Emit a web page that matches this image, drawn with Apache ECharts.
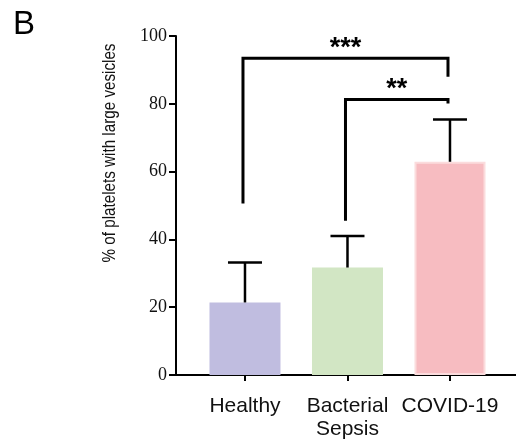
<!DOCTYPE html>
<html>
<head>
<meta charset="utf-8">
<script src="https://cdn.jsdelivr.net/npm/echarts@6/dist/echarts.min.js"></script>
<style>
  html, body { margin: 0; padding: 0; background: #fff; }
  #main { width: 516px; height: 445px; }
</style>
</head>
<body>
<div id="main"></div>
<script>
// data
var categories = ['Healthy', 'Bacterial\nSepsis', 'COVID-19'];
var means = [21.4, 31.7, 62.9];
var errTop = [33.2, 41.0, 75.4];
var barColors = ['#c0bde0', '#d2e6c4', '#f7bcc1'];
var yTicks = [0, 20, 40, 60, 80, 100];

// significance brackets: from / to category index, heights in axis units
var bracketFrom = [0, 1];
var bracketTo = [2, 2];
var bracketTop = [93.4, 81.3];
var bracketLeftEnd = [50.6, 45.5];
var bracketRightEnd = [88.0, 80.1];
var bracketLabels = ['***', '**'];

var chart = echarts.init(document.getElementById('main'));

var barData = means.map(function (v, i) {
  var item = { value: [i, v], itemStyle: { color: barColors[i] } };
  if (i === 2) {
    item.itemStyle.borderColor = '#fbdcdd';
    item.itemStyle.borderWidth = 2;
  }
  return item;
});

var errData = means.map(function (v, i) { return [i, v, errTop[i]]; });

var bracketData = bracketFrom.map(function (f, i) {
  return [f, bracketTo[i], bracketTop[i], bracketLeftEnd[i], bracketRightEnd[i], i];
});

chart.setOption({
  animation: false,
  grid: { left: 176, right: 0, top: 36, bottom: 70 },
  xAxis: {
    type: 'value',
    min: -0.673,
    max: 2.644,
    splitLine: { show: false },
    axisLine: { show: true, onZero: false, lineStyle: { color: '#000', width: 2 } },
    axisTick: { show: true, customValues: [0, 1, 2], length: 6, lineStyle: { color: '#000', width: 2 } },
    axisLabel: {
      customValues: [0, 1, 2],
      formatter: function (v) { return categories[Math.round(v)]; },
      margin: 20,
      color: '#111',
      fontFamily: 'Liberation Sans, Arial, sans-serif',
      fontSize: 21,
      lineHeight: 23
    }
  },
  yAxis: {
    type: 'value',
    min: 0,
    max: 100,
    interval: 20,
    splitLine: { show: false },
    axisLine: { show: true, onZero: false, lineStyle: { color: '#000', width: 2 } },
    axisTick: { show: true, length: 7, lineStyle: { color: '#000', width: 2 } },
    axisLabel: {
      margin: 9,
      color: '#111',
      fontFamily: 'Liberation Serif, Times New Roman, serif',
      fontSize: 18,
      formatter: function (v) { return yTicks.indexOf(v) >= 0 ? String(v) : ''; }
    }
  },
  graphic: [
    {
      type: 'text', left: 13, top: 8,
      style: { text: 'B', fontFamily: 'Liberation Sans, Arial, sans-serif', fontSize: 33, fill: '#000' }
    },
    {
      type: 'text', x: 110, y: 153, rotation: Math.PI / 2, scaleX: 0.845,
      style: {
        text: '% of platelets with large vesicles',
        fontFamily: 'Liberation Sans, Arial, sans-serif', fontSize: 18,
        fill: '#111', align: 'center', verticalAlign: 'middle'
      }
    }
  ],
  series: [
    {
      type: 'bar',
      barWidth: 71,
      data: barData,
      z: 2
    },
    {
      type: 'custom',
      data: errData,
      z: 3,
      renderItem: function (params, api) {
        var base = api.coord([api.value(0), api.value(1)]);
        var top = api.coord([api.value(0), api.value(2)]);
        var half = 17;
        return {
          type: 'group',
          children: [
            { type: 'line', shape: { x1: base[0], y1: base[1], x2: top[0], y2: top[1] },
              style: { stroke: '#000', lineWidth: 2.5 } },
            { type: 'line', shape: { x1: top[0] - half, y1: top[1], x2: top[0] + half, y2: top[1] },
              style: { stroke: '#000', lineWidth: 2.5 } }
          ]
        };
      }
    },
    {
      type: 'custom',
      data: bracketData,
      z: 4,
      renderItem: function (params, api) {
        var l = api.coord([api.value(0), api.value(3)]);
        var r = api.coord([api.value(1), api.value(4)]);
        var t = api.coord([api.value(0), api.value(2)]);
        var lx = l[0] - 2, rx = r[0] - 2;
        return {
          type: 'group',
          children: [
            { type: 'polyline',
              shape: { points: [[lx, l[1]], [lx, t[1]], [rx, t[1]], [rx, r[1]]] },
              style: { stroke: '#000', lineWidth: 3, fill: null } },
            { type: 'text',
              style: {
                x: (lx + rx) / 2, y: t[1] - 10,
                text: bracketLabels[api.value(5)],
                fontFamily: 'Liberation Sans, Arial, sans-serif', fontSize: 27, fontWeight: 'bold',
                fill: '#000', align: 'center', verticalAlign: 'middle'
              } }
          ]
        };
      }
    }
  ]
});
</script>
</body>
</html>
